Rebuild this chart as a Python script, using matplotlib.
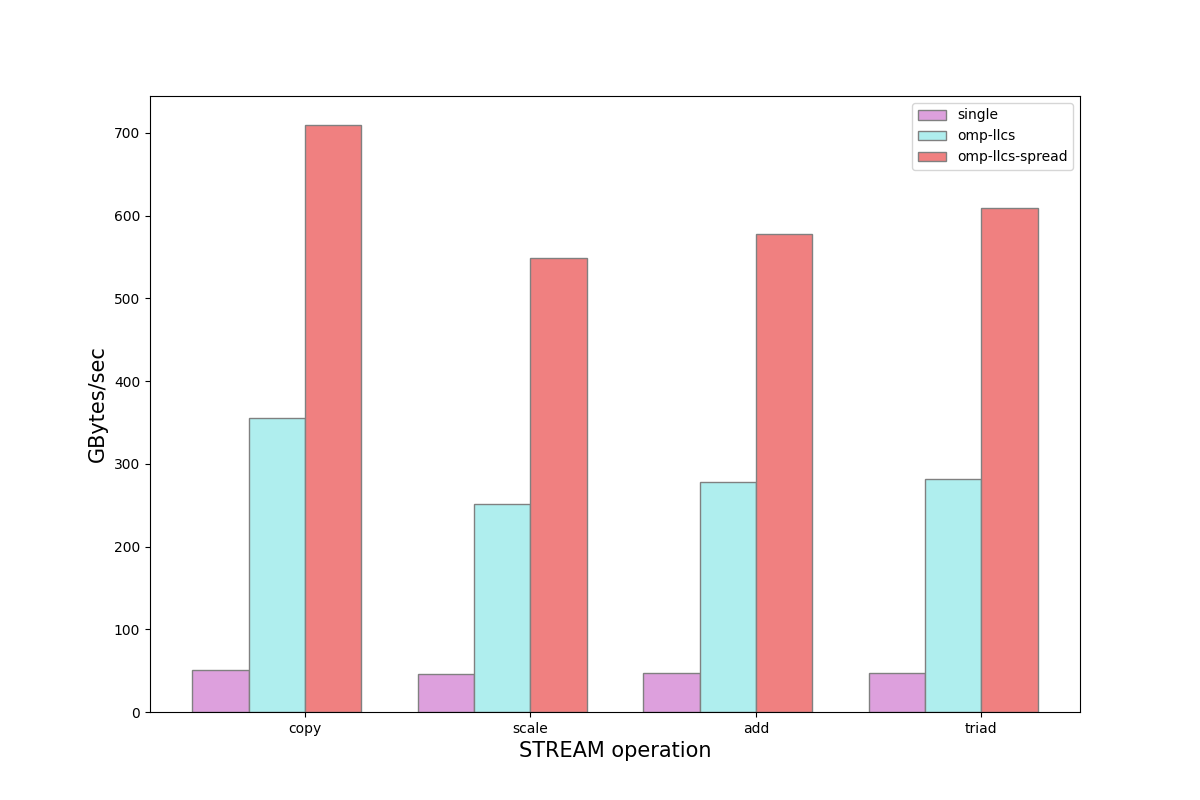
import numpy as np
from matplotlib import pyplot as plt

operations = ['copy', 'scale', 'add', 'triad']
single = [51, 46, 47, 47]
omp_llcs = [355, 251, 278, 281]
omp_llcs_spread = [709, 549, 578, 609]

bar_width = 0.25
r1 = np.arange(len(operations))
r2 = r1 + bar_width
r3 = r2 + bar_width

fig = plt.figure(figsize=(12, 8), dpi=100)
plt.bar(r1, single, color='plum', width=bar_width, edgecolor='grey', label='single')
plt.bar(r2, omp_llcs, color='paleturquoise', width=bar_width, edgecolor='grey', label='omp-llcs')
plt.bar(r3, omp_llcs_spread, color='lightcoral', width=bar_width, edgecolor='grey', label='omp-llcs-spread')

plt.xlabel('STREAM operation', fontsize=15)
plt.ylabel('GBytes/sec', fontsize=15)
plt.xticks(r1 + 1.5 * bar_width, operations)
plt.legend()

plt.savefig('out.png')
